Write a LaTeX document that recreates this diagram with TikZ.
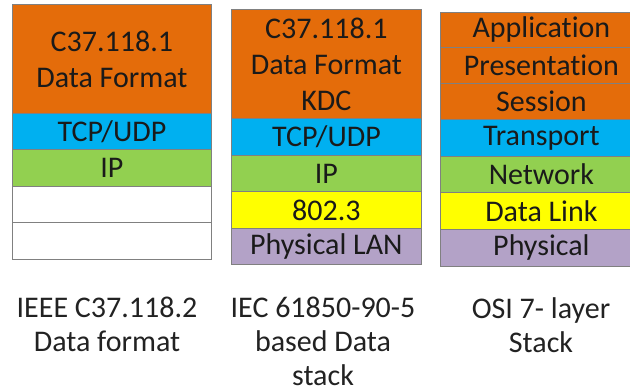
\documentclass[tikz,border=0pt]{standalone}
\usepackage{fontspec}
\setmainfont{Carlito}[Ligatures={NoCommon}]
\definecolor{lorange}{HTML}{E46C0A}
\definecolor{lblue}{HTML}{00B0F0}
\definecolor{lgreen}{HTML}{92D050}
\definecolor{lyellow}{HTML}{FFFF00}
\definecolor{lpurple}{HTML}{B3A2C7}
\definecolor{lborder}{HTML}{808080}
\definecolor{ltext}{HTML}{1A1A1A}
\definecolor{ctext}{HTML}{222222}
\begin{document}
\begin{tikzpicture}[x=1pt,y=-1pt,
  layer/.style={draw=lborder, line width=0.8pt, anchor=north west, inner sep=0pt,
    align=center, text=ltext, font=\fontsize{30}{36}\selectfont},
  ositext/.style={text=ltext, font=\fontsize{30}{36}\selectfont, inner sep=0pt},
  caption/.style={anchor=north, inner sep=0pt, align=center, text=ctext,
    font=\fontsize{30}{34}\selectfont}]
\useasboundingbox (0,0) rectangle (630,389);
\clip (0,0) rectangle (630,389);
% ---- left stack: IEEE C37.118.2
\node[layer, fill=lorange, minimum width=199pt, minimum height=109pt] (a1) at (12,4) {C37.118.1\\Data Format};
\node[layer, fill=lblue, minimum width=199pt, minimum height=36pt] (a2) at (12,113) {TCP/UDP};
\node[layer, fill=lgreen, minimum width=199pt, minimum height=37pt] (a3) at (12,149) {IP};
\node[layer, fill=white, minimum width=199pt, minimum height=36pt] (a4) at (12,186) {};
\node[layer, fill=white, minimum width=199pt, minimum height=37pt] (a5) at (12,222) {};
% ---- middle stack: IEC 61850-90-5
\node[layer, fill=lorange, minimum width=190pt, minimum height=109pt] (b1) at (231,9) {C37.118.1\\Data Format\\KDC};
\node[layer, fill=lblue, minimum width=190pt, minimum height=37pt] (b2) at (231,118) {TCP/UDP};
\node[layer, fill=lgreen, minimum width=190pt, minimum height=36pt] (b3) at (231,155) {IP};
\node[layer, fill=lyellow, minimum width=190pt, minimum height=37pt] (b4) at (231,191) {802.3};
\node[layer, fill=lpurple, minimum width=190pt, minimum height=36pt] (b5) at (231,228) {Physical LAN};
% ---- right stack: OSI
\node[layer, fill=lorange, minimum width=194pt, minimum height=35pt] (c1) at (440,12) {};
\node[layer, fill=lorange, minimum width=194pt, minimum height=36pt] (c2) at (440,47) {};
\node[layer, fill=lorange, minimum width=194pt, minimum height=36pt] (c3) at (440,83) {};
\node[layer, fill=lblue, minimum width=194pt, minimum height=37pt] (c4) at (440,119) {};
\node[layer, fill=lgreen, minimum width=194pt, minimum height=36pt] (c5) at (440,156) {};
\node[layer, fill=lyellow, minimum width=194pt, minimum height=37pt] (c6) at (440,192) {};
\node[layer, fill=lpurple, minimum width=194pt, minimum height=37pt] (c7) at (440,229) {};
\path
  (c1.center) ++(4,0) node[ositext] (t1) {Application}
  (c2.center) ++(4,0) node[ositext] (t2) {Presentation}
  (c3.center) ++(4,0) node[ositext] (t3) {Session}
  (c4.center) ++(4,0) node[ositext] (t4) {Transport}
  (c5.center) ++(4,0) node[ositext] (t5) {Network}
  (c6.center) ++(4,0) node[ositext] (t6) {Data Link}
  (c7.center) ++(4,0) node[ositext] (t7) {Physical};
% ---- captions
\node[caption] (ta) at (107,297) {IEEE C37.118.2\\Data format};
\node[caption] (tb) at (323,297) {IEC 61850-90-5\\based Data\\stack};
\node[caption] (tc) at (541,297) {OSI 7- layer\\Stack};
\end{tikzpicture}
\end{document}
